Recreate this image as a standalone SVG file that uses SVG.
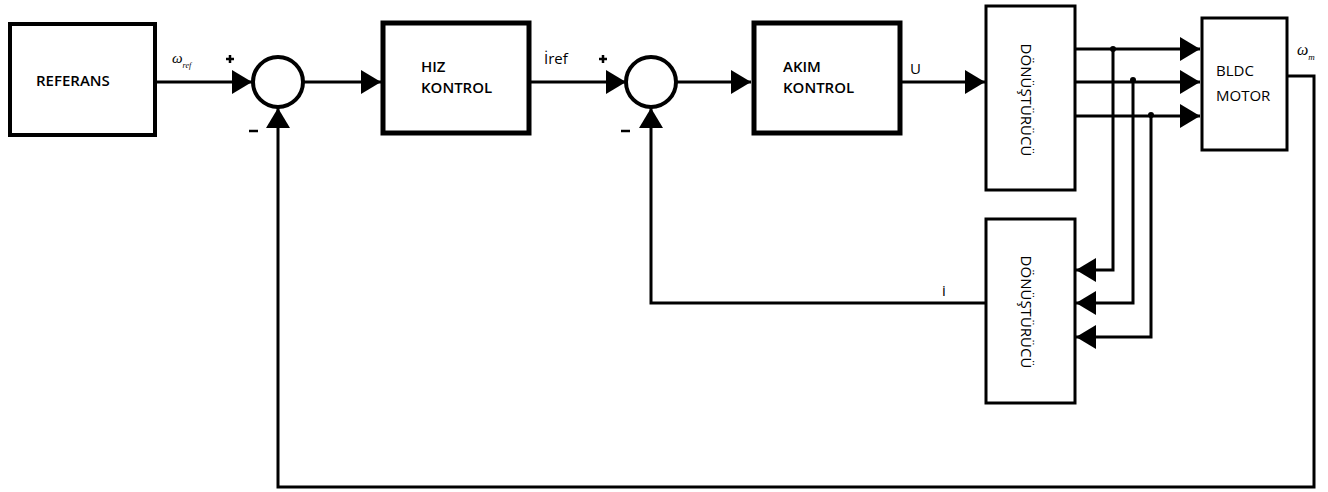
<svg xmlns="http://www.w3.org/2000/svg" width="1328" height="492" viewBox="0 0 1328 492">
<style>
.box{fill:#fff;stroke:#000}
.lbl{font-family:"Open Sans","Liberation Sans",sans-serif;font-weight:600;font-size:15px;fill:#000}
.reg{font-family:"Open Sans","Liberation Sans",sans-serif;font-size:15px;fill:#000}
.ln{fill:none;stroke:#000;stroke-width:3}
.sum{fill:#fff;stroke:#000;stroke-width:4}
.om{font-family:"Liberation Serif",serif;font-style:italic;fill:#000}
.sign{stroke:#000;stroke-width:2.5}
</style>
<defs>
<marker id="ar" markerUnits="userSpaceOnUse" markerWidth="20" markerHeight="24" refX="20" refY="12" orient="auto">
<path d="M0,0 L20,12 L0,24 Z" fill="#000"/>
</marker>
</defs>
<rect width="1328" height="492" fill="#fff"/>
<g id="connectors">
<path class="ln" d="M155,82 H252" marker-end="url(#ar)"/>
<path class="ln" d="M303,82 H381" marker-end="url(#ar)"/>
<path class="ln" d="M530,82 H626" marker-end="url(#ar)"/>
<path class="ln" d="M676,82 H751" marker-end="url(#ar)"/>
<path class="ln" d="M900,82 H985" marker-end="url(#ar)"/>
<path class="ln" d="M1075,49 H1200" marker-end="url(#ar)"/>
<path class="ln" d="M1075,82 H1200" marker-end="url(#ar)"/>
<path class="ln" d="M1075,116 H1200" marker-end="url(#ar)"/>
<path class="ln" d="M1113,49 V270 H1076" marker-end="url(#ar)"/>
<path class="ln" d="M1133,82 V303 H1076" marker-end="url(#ar)"/>
<path class="ln" d="M1151,116 V337 H1076" marker-end="url(#ar)"/>
<circle cx="1113" cy="49" r="3" fill="#000"/>
<circle cx="1133" cy="80" r="3" fill="#000"/>
<circle cx="1151" cy="115" r="3" fill="#000"/>
<path class="ln" d="M985,303 H651 V108" marker-end="url(#ar)"/>
<path class="ln" d="M1287,76 H1314 V487 H278 V108" marker-end="url(#ar)"/>
</g>
<g id="referans">
<rect class="box" x="10" y="24" width="145" height="111" stroke-width="4"/>
<text class="lbl" x="36" y="86" font-size="15.5">REFERANS</text>
</g>
<g id="sum1">
<circle class="sum" cx="278" cy="82" r="25"/>
<path class="sign" d="M226,59 H234 M230,55 V63"/>
<path class="sign" d="M249,131 H258"/>
</g>
<g id="hiz">
<rect class="box" x="383" y="23" width="146" height="110" stroke-width="5"/>
<text class="lbl" x="421" y="72">HIZ</text>
<text class="lbl" x="421" y="93">KONTROL</text>
</g>
<g id="sum2">
<circle class="sum" cx="651" cy="82" r="25"/>
<path class="sign" d="M599,59 H607 M603,55 V63"/>
<path class="sign" d="M621,131 H630"/>
</g>
<g id="akim">
<rect class="box" x="754" y="23" width="146" height="110" stroke-width="5"/>
<text class="lbl" x="783" y="72">AKIM</text>
<text class="lbl" x="783" y="93">KONTROL</text>
</g>
<g id="donusturucu1">
<rect class="box" x="986" y="6" width="89" height="184" stroke-width="3"/>
<text class="reg" font-size="17" transform="translate(1021,100) rotate(90)" text-anchor="middle">DÖNÜŞTÜRÜCÜ</text>
</g>
<g id="bldc">
<rect class="box" x="1202" y="18" width="85" height="132" stroke-width="3"/>
<text class="reg" font-size="17" x="1216" y="76">BLDC</text>
<text class="reg" font-size="17" x="1216" y="101">MOTOR</text>
</g>
<g id="donusturucu2">
<rect class="box" x="986" y="219" width="89" height="184" stroke-width="3"/>
<text class="reg" font-size="17" transform="translate(1021,312) rotate(90)" text-anchor="middle">DÖNÜŞTÜRÜCÜ</text>
</g>
<g id="labels">
<text class="om" x="172" y="63" font-size="15">ω<tspan font-size="8" dy="5">ref</tspan></text>
<text class="reg" x="544" y="64" font-size="16">İref</text>
<text class="reg" x="910" y="74" font-size="16">U</text>
<text class="reg" x="942" y="296" font-size="16">i</text>
<text class="om" x="1297" y="55" font-size="16">ω<tspan font-size="9" dy="5">m</tspan></text>
</g>
</svg>
